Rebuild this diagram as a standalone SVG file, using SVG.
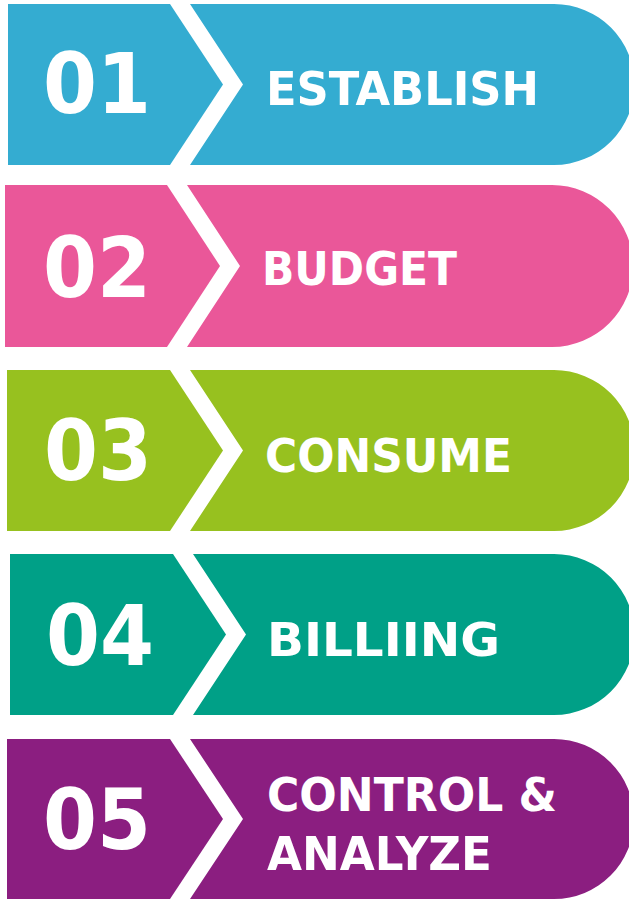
<svg xmlns="http://www.w3.org/2000/svg" width="629" height="899" viewBox="0 0 629 899">
<style>
.num{font-family:"DejaVu Sans","Liberation Sans",sans-serif;font-weight:bold;font-size:84px;fill:#fff;text-anchor:middle}
.lbl{font-family:"DejaVu Sans Condensed","DejaVu Sans","Liberation Sans",sans-serif;font-weight:bold;font-size:47px;fill:#fff}
</style>
<rect width="629" height="899" fill="#fff"/>
<g id="step1" fill="#34ACD1">
<path d="M8,4 H170 L223,84.5 L170,165 H8 Z"/>
<path d="M190,4 H554 A80.5,80.5 0 0 1 554,165 H190 L243,84.5 Z"/>
<text class="num" x="97" y="113" textLength="108" lengthAdjust="spacingAndGlyphs">01</text>
<text class="lbl" x="266" y="105" textLength="273" lengthAdjust="spacingAndGlyphs">ESTABLISH</text>
</g>
<g id="step2" fill="#EA5799">
<path d="M5,185 H167 L220,266 L167,347 H5 Z"/>
<path d="M187,185 H552 A81,81 0 0 1 552,347 H187 L240,266 Z"/>
<text class="num" x="97" y="297" textLength="108" lengthAdjust="spacingAndGlyphs">02</text>
<text class="lbl" x="262" y="285" textLength="195" lengthAdjust="spacingAndGlyphs">BUDGET</text>
</g>
<g id="step3" fill="#97C11F">
<path d="M7,370 H170 L223,450.5 L170,531 H7 Z"/>
<path d="M190,370 H554 A80.5,80.5 0 0 1 554,531 H190 L243,450.5 Z"/>
<text class="num" x="98" y="480" textLength="108" lengthAdjust="spacingAndGlyphs">03</text>
<text class="lbl" x="265" y="472" textLength="247" lengthAdjust="spacingAndGlyphs">CONSUME</text>
</g>
<g id="step4" fill="#00A087">
<path d="M10,554 H173 L226,634.5 L173,715 H10 Z"/>
<path d="M193,554 H554 A80.5,80.5 0 0 1 554,715 H193 L246,634.5 Z"/>
<text class="num" x="100" y="665" textLength="108" lengthAdjust="spacingAndGlyphs">04</text>
<text class="lbl" x="267" y="656" textLength="233" lengthAdjust="spacingAndGlyphs">BILLIING</text>
</g>
<g id="step5" fill="#8B1E80">
<path d="M7,739 H170 L223,819 L170,899 H7 Z"/>
<path d="M190,739 H554 A80,80 0 0 1 554,899 H190 L243,819 Z"/>
<text class="num" x="97" y="849" textLength="108" lengthAdjust="spacingAndGlyphs">05</text>
<text class="lbl" x="267" y="811" textLength="290" lengthAdjust="spacingAndGlyphs">CONTROL &amp;</text>
<text class="lbl" x="267" y="870" textLength="225" lengthAdjust="spacingAndGlyphs">ANALYZE</text>
</g>
<g id="connectors"/>
</svg>
